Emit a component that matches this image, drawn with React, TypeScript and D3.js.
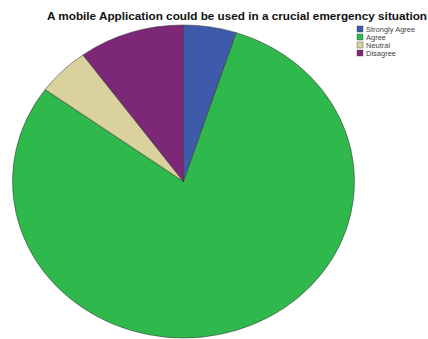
import React from "react";
import * as d3 from "d3";

// Survey responses (percent of respondents)
const categories = ["Strongly Agree", "Agree", "Neutral", "Disagree"];
const values = [5, 80, 5, 10];
const colors = ["#3d5aab", "#2fb84b", "#d9d29d", "#7c2777"];

const title = "A mobile Application could be used in a crucial emergency situation";

const W = 428;
const H = 339;

export default function App() {
  const cx = 183.5;
  const cy = 181.5;
  const rx = 171;
  const ry = 156.5;

  const data = categories.map((c, i) => ({ category: c, value: values[i], color: colors[i] }));
  const pie = d3
    .pie<{ category: string; value: number; color: string }>()
    .sort(null)
    .value((d) => d.value);
  const arcs = pie(data);
  const arc = d3
    .arc<d3.PieArcDatum<{ category: string; value: number; color: string }>>()
    .innerRadius(0)
    .outerRadius(ry);

  const legendX = 357;
  const legendY = 26;
  const legendStep = 8;

  return (
    <svg
      width={W}
      height={H}
      style={{ position: "absolute", left: 0, top: 0, background: "#fff" }}
      fontFamily="'Liberation Sans', Arial, sans-serif"
    >
      <text
        x={47}
        y={20}
        fontSize={10.6}
        fontWeight="bold"
        fill="#111"
        textLength={380}
        lengthAdjust="spacingAndGlyphs"
      >
        {title}
      </text>

      {/* pie, stretched horizontally into an ellipse */}
      <g transform={`translate(${cx},${cy}) scale(${rx / ry},1)`}>
        {arcs.map((a, i) => (
          <path
            key={i}
            d={arc(a) || ""}
            fill={a.data.color}
            stroke="#3a3a3a"
            strokeWidth={0.7}
            strokeOpacity={0.8}
            vectorEffect="non-scaling-stroke"
          />
        ))}
      </g>

      {/* legend */}
      {data.map((d, i) => (
        <g key={d.category} transform={`translate(${legendX},${legendY + i * legendStep})`}>
          <rect x={0} y={0} width={6} height={6} fill={d.color} stroke="#444" strokeWidth={0.4} />
          <text x={9} y={5.6} fontSize={7.5} fill="#444">
            {d.category}
          </text>
        </g>
      ))}
    </svg>
  );
}
